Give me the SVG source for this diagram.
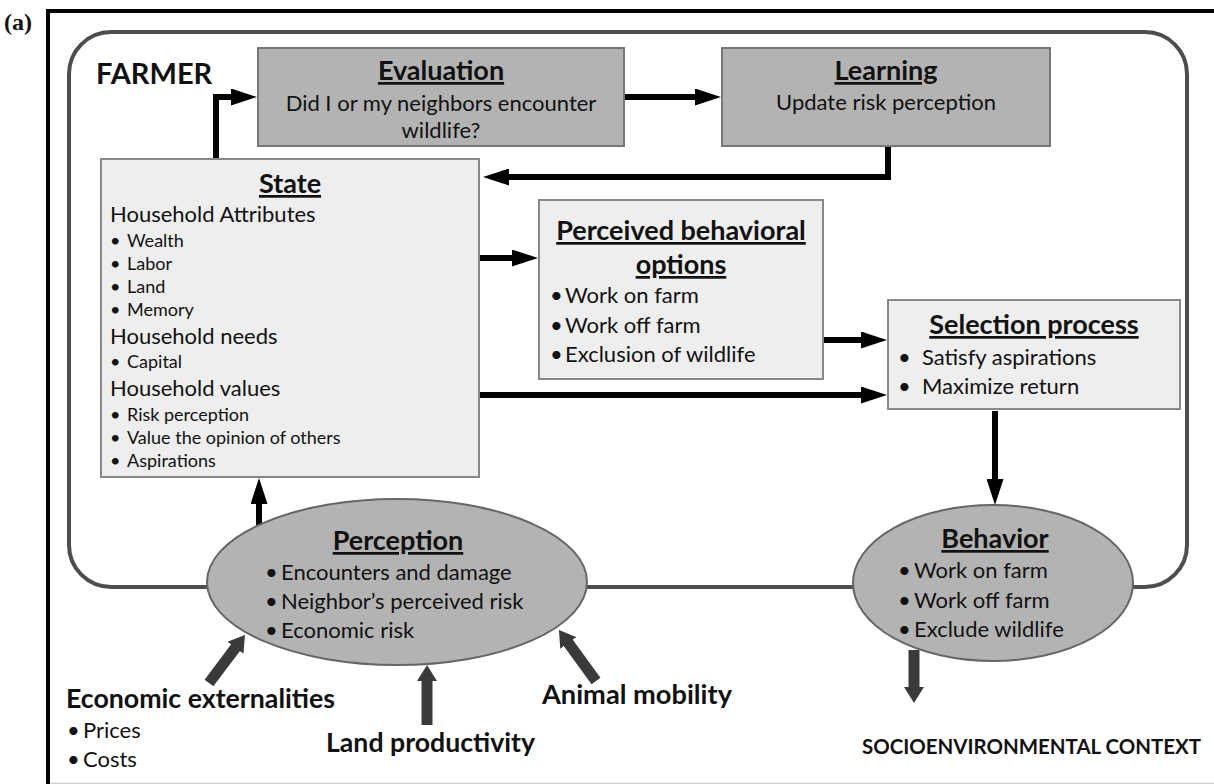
<svg xmlns="http://www.w3.org/2000/svg" width="1214" height="784" viewBox="0 0 1214 784">
<style>
text{font-family:Lato,"Open Sans","Liberation Sans",sans-serif;fill:#111}
.ttl{font-weight:bold;font-size:27px;text-decoration:underline;text-anchor:middle}
.big{font-size:22px}
.sm{font-size:18px}
.mid{font-size:22px}
.lbl{font-weight:bold;font-size:27px}
.box1{fill:#b3b3b3;stroke:#777;stroke-width:2}
.box2{fill:#eeeeee;stroke:#888;stroke-width:2}
.ell{fill:#b3b3b3;stroke:#666;stroke-width:2}
.con{fill:none;stroke:#000;stroke-width:6}
.gcon{fill:none;stroke:#3a3a3a;stroke-width:11}
</style>
<defs>
<marker id="ah" markerWidth="26" markerHeight="17" refX="4" refY="8.5" orient="auto" markerUnits="userSpaceOnUse">
<path d="M0,0 L26,8.5 L0,17 z" fill="#000"/>
</marker>
<marker id="gh" markerWidth="16" markerHeight="20" refX="4" refY="10" orient="auto" markerUnits="userSpaceOnUse">
<path d="M0,0 L16,10 L0,20 z" fill="#3a3a3a"/>
</marker>
</defs>
<rect x="0" y="0" width="1214" height="784" fill="#fff"/>
<text x="4" y="30" style="font-family:'Liberation Serif',serif;font-weight:bold;font-size:24px">(a)</text>
<rect x="48" y="11" width="1190" height="790" fill="none" stroke="#000" stroke-width="4"/>
<line x1="50" y1="783.5" x2="1214" y2="783.5" stroke="#d0d0d0" stroke-width="1.5"/>
<g id="farmer-frame">
<rect x="69" y="32" width="1118" height="555" rx="42" fill="none" stroke="#4d4d4d" stroke-width="4"/>
<text x="96" y="84" class="lbl" style="font-size:29px">FARMER</text>
</g>
<g id="connectors">
<path class="con" d="M216,159 V97 H235" marker-end="url(#ah)"/>
<path class="con" d="M624,97 H699" marker-end="url(#ah)"/>
<path class="con" d="M888,146 V177 H505" marker-end="url(#ah)"/>
<path class="con" d="M479,258 H516" marker-end="url(#ah)"/>
<path class="con" d="M823,340 H865" marker-end="url(#ah)"/>
<path class="con" d="M479,395 H865" marker-end="url(#ah)"/>
<path class="con" d="M995,411 V483" marker-end="url(#ah)"/>
<path class="con" d="M259,525 V500" marker-end="url(#ah)"/>
<path class="gcon" d="M209,683 L237.8,644.6" marker-end="url(#gh)"/>
<path class="gcon" d="M427,725 V677" marker-end="url(#gh)"/>
<path class="gcon" d="M596,681 L566,639.7" marker-end="url(#gh)"/>
<path class="gcon" d="M914,650 V691" marker-end="url(#gh)"/>
</g>
<g id="evaluation">
<rect class="box1" x="258" y="48" width="366" height="98"/>
<text x="441" y="80" class="ttl">Evaluation</text>
<text x="441" y="111" class="big" text-anchor="middle">Did I or my neighbors encounter</text>
<text x="441" y="138" class="big" text-anchor="middle">wildlife?</text>
</g>
<g id="learning">
<rect class="box1" x="722" y="48" width="328" height="98"/>
<text x="886" y="80" class="ttl">Learning</text>
<text x="886" y="110" class="big" text-anchor="middle">Update risk perception</text>
</g>
<g id="state">
<rect class="box2" x="101" y="159" width="378" height="318"/>
<text x="290" y="193" class="ttl">State</text>
<text x="110" y="222" class="big">Household Attributes</text>
<text y="247" class="sm"><tspan x="110">•</tspan><tspan x="127">Wealth</tspan></text>
<text y="270" class="sm"><tspan x="110">•</tspan><tspan x="127">Labor</tspan></text>
<text y="293" class="sm"><tspan x="110">•</tspan><tspan x="127">Land</tspan></text>
<text y="316" class="sm"><tspan x="110">•</tspan><tspan x="127">Memory</tspan></text>
<text x="110" y="344" class="big">Household needs</text>
<text y="368" class="sm"><tspan x="110">•</tspan><tspan x="127">Capital</tspan></text>
<text x="110" y="396" class="big">Household values</text>
<text y="421" class="sm"><tspan x="110">•</tspan><tspan x="127">Risk perception</tspan></text>
<text y="444" class="sm"><tspan x="110">•</tspan><tspan x="127">Value the opinion of others</tspan></text>
<text y="467" class="sm"><tspan x="110">•</tspan><tspan x="127">Aspirations</tspan></text>
</g>
<g id="perceived-options">
<rect class="box2" x="539" y="200" width="284" height="179"/>
<text x="681" y="240" class="ttl">Perceived behavioral</text>
<text x="681" y="274" class="ttl">options</text>
<text y="303" class="mid"><tspan x="550">•</tspan><tspan x="565">Work on farm</tspan></text>
<text y="333" class="mid"><tspan x="550">•</tspan><tspan x="565">Work off farm</tspan></text>
<text y="362" class="mid"><tspan x="550">•</tspan><tspan x="565">Exclusion of wildlife</tspan></text>
</g>
<g id="selection">
<rect class="box2" x="888" y="300" width="292" height="109"/>
<text x="1034" y="334" class="ttl">Selection process</text>
<text y="365" class="mid"><tspan x="898">•</tspan><tspan x="922">Satisfy aspirations</tspan></text>
<text y="394" class="mid"><tspan x="898">•</tspan><tspan x="922">Maximize return</tspan></text>
</g>
<g id="perception">
<ellipse class="ell" cx="397" cy="582" rx="190" ry="83"/>
<text x="398" y="550" class="ttl">Perception</text>
<text y="580" class="mid"><tspan x="265">•</tspan><tspan x="281">Encounters and damage</tspan></text>
<text y="609" class="mid"><tspan x="265">•</tspan><tspan x="281">Neighbor’s perceived risk</tspan></text>
<text y="638" class="mid"><tspan x="265">•</tspan><tspan x="281">Economic risk</tspan></text>
</g>
<g id="behavior">
<ellipse class="ell" cx="993" cy="583" rx="140" ry="78"/>
<text x="995" y="548" class="ttl">Behavior</text>
<text y="578" class="mid"><tspan x="898">•</tspan><tspan x="914">Work on farm</tspan></text>
<text y="608" class="mid"><tspan x="898">•</tspan><tspan x="914">Work off farm</tspan></text>
<text y="637" class="mid"><tspan x="898">•</tspan><tspan x="914">Exclude wildlife</tspan></text>
</g>
<g id="economic-externalities">
<text x="66" y="708" class="lbl" textLength="269" lengthAdjust="spacingAndGlyphs">Economic externalities</text>
<text y="738" class="mid"><tspan x="67">•</tspan><tspan x="83">Prices</tspan></text>
<text y="767" class="mid"><tspan x="67">•</tspan><tspan x="83">Costs</tspan></text>
</g>
<g id="land-productivity">
<text x="326" y="752" class="lbl" textLength="209" lengthAdjust="spacingAndGlyphs">Land productivity</text>
</g>
<g id="animal-mobility">
<text x="542" y="704" class="lbl" textLength="190" lengthAdjust="spacingAndGlyphs">Animal mobility</text>
</g>
<g id="context">
<text x="862" y="754" style="font-weight:bold;font-size:20.5px" textLength="339" lengthAdjust="spacingAndGlyphs">SOCIOENVIRONMENTAL CONTEXT</text>
</g>
</svg>
